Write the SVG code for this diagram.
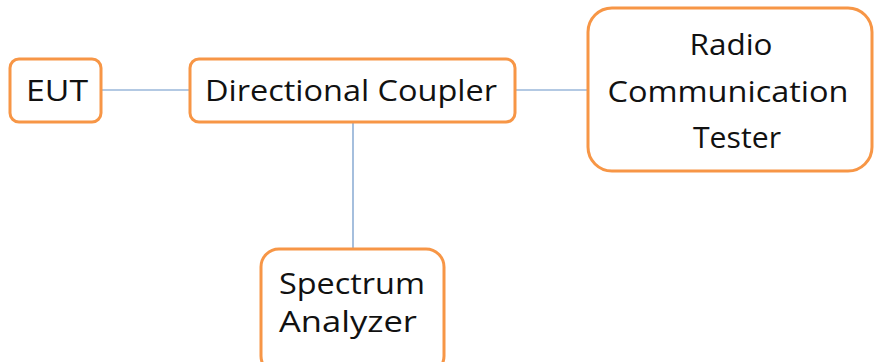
<svg xmlns="http://www.w3.org/2000/svg" width="876" height="362" viewBox="0 0 876 362">
<style>
.box{fill:#fff;stroke:#F79646;stroke-width:3}
.lbl{font-family:"Open Sans","Liberation Sans",sans-serif;font-size:30px;fill:#111;text-anchor:middle}
.conn{stroke:#4F81BD;stroke-width:1.2;fill:none;opacity:0.85}
</style>
<rect width="876" height="362" fill="#fff"/>
<g id="connectors">
<line class="conn" x1="101" y1="90" x2="190" y2="90"/>
<line class="conn" x1="515" y1="90" x2="588" y2="90"/>
<line class="conn" x1="353" y1="122" x2="353" y2="249"/>
</g>
<g id="eut">
<rect class="box" x="10" y="59" width="91" height="63" rx="9"/>
<text class="lbl" x="57" y="101" textLength="62" lengthAdjust="spacingAndGlyphs">EUT</text>
</g>
<g id="coupler">
<rect class="box" x="190" y="59" width="325" height="63" rx="9"/>
<text class="lbl" x="351" y="101" textLength="292" lengthAdjust="spacingAndGlyphs">Directional Coupler</text>
</g>
<g id="tester">
<rect class="box" x="588" y="8" width="284" height="163" rx="24"/>
<text class="lbl" x="731" y="55" textLength="83" lengthAdjust="spacingAndGlyphs">Radio</text>
<text class="lbl" x="728" y="102" textLength="241" lengthAdjust="spacingAndGlyphs">Communication</text>
<text class="lbl" x="737" y="148" textLength="88" lengthAdjust="spacingAndGlyphs">Tester</text>
</g>
<g id="analyzer">
<rect class="box" x="261" y="249" width="183" height="125" rx="18"/>
<text class="lbl" x="352" y="294" textLength="146" lengthAdjust="spacingAndGlyphs">Spectrum</text>
<text class="lbl" x="348" y="332" textLength="138" lengthAdjust="spacingAndGlyphs">Analyzer</text>
</g>
</svg>
